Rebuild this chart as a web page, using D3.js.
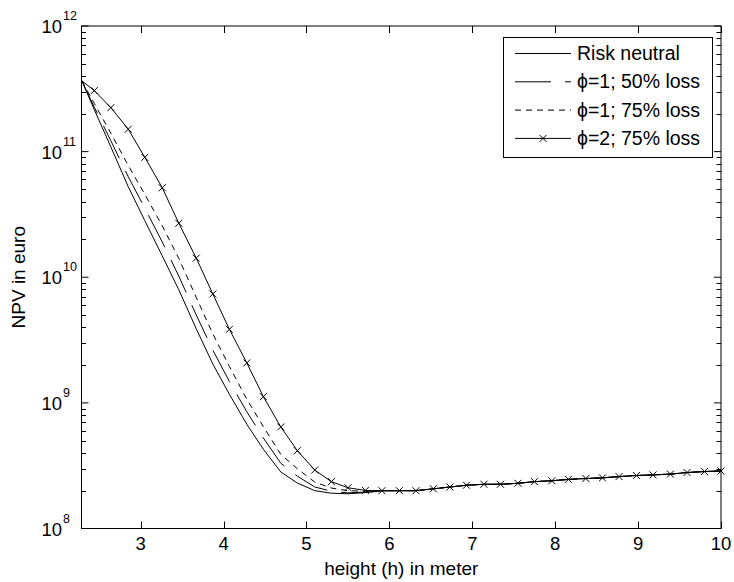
<!DOCTYPE html>
<html>
<head>
<meta charset="utf-8">
<script src="https://cdn.jsdelivr.net/npm/d3@7"></script>
<style>
  html, body { margin: 0; padding: 0; background: #fff; }
  svg { display: block; font-family: "Liberation Sans", Arial, sans-serif; }
</style>
</head>
<body>
<svg id="chart" width="734" height="582"></svg>
<script>
// ---------------- data ----------------
const heights = [2.29, 2.44, 2.64, 2.85, 3.05, 3.26, 3.46, 3.67, 3.87, 4.07, 4.28, 4.48, 4.69, 4.89,
  5.10, 5.30, 5.50, 5.71, 5.91, 6.12, 6.32, 6.53, 6.73, 6.93, 7.14, 7.34, 7.55, 7.75, 7.96, 8.16,
  8.37, 8.57, 8.77, 8.98, 9.18, 9.39, 9.59, 9.80, 10.00];

const riskNeutral = [3.66e11, 2.16e11, 1.09e11, 5.25e10, 2.82e10, 1.48e10, 7.94e9, 3.89e9, 2.04e9,
  1.17e9, 6.76e8, 4.27e8, 2.82e8, 2.30e8, 2.00e8, 1.91e8, 1.89e8, 1.93e8, 1.99e8,
  2.00e8, 2.00e8, 2.07e8, 2.14e8, 2.21e8, 2.25e8, 2.25e8, 2.29e8, 2.36e8, 2.40e8, 2.46e8,
  2.50e8, 2.53e8, 2.59e8, 2.64e8, 2.67e8, 2.71e8, 2.79e8, 2.84e8, 2.87e8];

const phi1Loss50 = [3.66e11, 2.26e11, 1.22e11, 6.31e10, 3.55e10, 1.91e10, 1.02e10, 5.01e9, 2.63e9,
  1.48e9, 8.51e8, 5.25e8, 3.31e8, 2.61e8, 2.14e8, 1.98e8, 1.92e8, 1.95e8, 1.99e8,
  2.00e8, 2.00e8, 2.07e8, 2.14e8, 2.21e8, 2.25e8, 2.25e8, 2.29e8, 2.36e8, 2.40e8, 2.46e8,
  2.50e8, 2.53e8, 2.59e8, 2.64e8, 2.67e8, 2.71e8, 2.79e8, 2.84e8, 2.87e8];

const phi1Loss75 = [3.66e11, 2.42e11, 1.40e11, 7.76e10, 4.57e10, 2.57e10, 1.41e10, 6.92e9, 3.55e9,
  1.95e9, 1.07e9, 6.46e8, 3.89e8, 2.99e8, 2.34e8, 2.10e8, 2.00e8, 1.98e8, 2.00e8,
  2.00e8, 2.00e8, 2.07e8, 2.14e8, 2.21e8, 2.25e8, 2.25e8, 2.29e8, 2.36e8, 2.40e8, 2.46e8,
  2.50e8, 2.53e8, 2.59e8, 2.64e8, 2.67e8, 2.71e8, 2.79e8, 2.84e8, 2.87e8];

const phi2Loss75 = [3.66e11, 3.06e11, 2.24e11, 1.51e11, 9.00e10, 5.16e10, 2.69e10, 1.42e10, 7.36e9,
  3.85e9, 2.08e9, 1.12e9, 6.43e8, 4.16e8, 2.92e8, 2.36e8, 2.11e8, 2.01e8, 2.00e8,
  2.00e8, 2.00e8, 2.07e8, 2.14e8, 2.21e8, 2.25e8, 2.25e8, 2.29e8, 2.36e8, 2.40e8, 2.46e8,
  2.50e8, 2.53e8, 2.59e8, 2.64e8, 2.67e8, 2.71e8, 2.79e8, 2.84e8, 2.87e8];

const seriesLabels = ["Risk neutral", "\u03D5=1; 50% loss", "\u03D5=1; 75% loss", "\u03D5=2; 75% loss"];
const xTickValues = [3, 4, 5, 6, 7, 8, 9, 10];
const yTickExponents = [8, 9, 10, 11, 12];
const xLabel = "height (h) in meter";
const yLabel = "NPV in euro";

// ---------------- layout ----------------
const W = 734, H = 582;
const plot = { left: 81.5, top: 26, right: 721, bottom: 528.5 };
const xDomain = [2.286, 10];
const yDomain = [1e8, 1e12];
const ink = "#000";

const svg = d3.select("#chart");
svg.append("rect").attr("width", W).attr("height", H).attr("fill", "#fff");

const x = d3.scaleLinear().domain(xDomain).range([plot.left, plot.right]);
const y = d3.scaleLog().domain(yDomain).range([plot.bottom, plot.top]);

svg.append("clipPath").attr("id", "clip").append("rect")
  .attr("x", plot.left).attr("y", plot.top)
  .attr("width", plot.right - plot.left).attr("height", plot.bottom - plot.top);

const series = [
  { label: seriesLabels[0], values: riskNeutral, dash: null, marker: false },
  { label: seriesLabels[1], values: phi1Loss50, dash: "36,14", marker: false },
  { label: seriesLabels[2], values: phi1Loss75, dash: "6,5", marker: false },
  { label: seriesLabels[3], values: phi2Loss75, dash: null, marker: true }
];

const line = d3.line().x(d => x(d[0])).y(d => y(d[1]));
const gLines = svg.append("g").attr("clip-path", "url(#clip)");

function drawCross(g, cx, cy, r) {
  g.append("path")
    .attr("d", `M${cx - r},${cy - r}L${cx + r},${cy + r}M${cx - r},${cy + r}L${cx + r},${cy - r}`)
    .attr("stroke", ink).attr("stroke-width", 1).attr("fill", "none");
}

series.forEach(s => {
  const pts = heights.map((h, i) => [h, s.values[i]]);
  gLines.append("path").datum(pts)
    .attr("d", line)
    .attr("fill", "none")
    .attr("stroke", ink)
    .attr("stroke-width", 1)
    .attr("stroke-dasharray", s.dash);
  if (s.marker) {
    const gm = svg.append("g");
    pts.slice(1).forEach(p => drawCross(gm, x(p[0]), y(p[1]), 3.5));
  }
});

// ---------------- axes box & ticks ----------------
const gAx = svg.append("g").attr("stroke", ink).attr("stroke-width", 1).attr("fill", "none");
gAx.append("rect")
  .attr("x", plot.left).attr("y", plot.top)
  .attr("width", plot.right - plot.left).attr("height", plot.bottom - plot.top);

const majorLen = 7, minorLen = 4.5;
xTickValues.forEach(v => {
  const px = Math.round(x(v)) + 0.5;
  gAx.append("line").attr("x1", px).attr("x2", px).attr("y1", plot.bottom).attr("y2", plot.bottom - majorLen);
  gAx.append("line").attr("x1", px).attr("x2", px).attr("y1", plot.top).attr("y2", plot.top + majorLen);
});

yTickExponents.forEach((e, i) => {
  const v = Math.pow(10, e);
  const py = y(v);
  gAx.append("line").attr("x1", plot.left).attr("x2", plot.left + majorLen).attr("y1", py).attr("y2", py);
  gAx.append("line").attr("x1", plot.right).attr("x2", plot.right - majorLen).attr("y1", py).attr("y2", py);
  if (i < yTickExponents.length - 1) {
    for (let m = 2; m <= 9; m++) {
      const pm = Math.round(y(m * v)) + 0.5;
      gAx.append("line").attr("x1", plot.left).attr("x2", plot.left + minorLen).attr("y1", pm).attr("y2", pm);
      gAx.append("line").attr("x1", plot.right).attr("x2", plot.right - minorLen).attr("y1", pm).attr("y2", pm);
    }
  }
});

// tick labels
const fs = 18.5;
const gT = svg.append("g").attr("fill", ink);
xTickValues.forEach(v => {
  gT.append("text").attr("x", x(v)).attr("y", plot.bottom + 21)
    .attr("text-anchor", "middle").attr("font-size", fs).text(v);
});
yTickExponents.forEach(e => {
  const py = y(Math.pow(10, e));
  gT.append("text").attr("x", 62).attr("y", py + 7)
    .attr("text-anchor", "end").attr("font-size", fs).text("10");
  gT.append("text").attr("x", 63).attr("y", py - 6)
    .attr("text-anchor", "start").attr("font-size", 12.5).text(e);
});

// axis labels
gT.append("text").attr("x", (plot.left + plot.right) / 2).attr("y", 575)
  .attr("text-anchor", "middle").attr("font-size", 19).text(xLabel);
gT.append("text")
  .attr("transform", `translate(25,${(plot.top + plot.bottom) / 2}) rotate(-90)`)
  .attr("text-anchor", "middle").attr("font-size", 19).text(yLabel);

// ---------------- legend ----------------
const lg = { x: 503.5, y: 37.5, w: 209, h: 120 };
const gL = svg.append("g");
gL.append("rect").attr("x", lg.x).attr("y", lg.y).attr("width", lg.w).attr("height", lg.h)
  .attr("fill", "#fff").attr("stroke", ink).attr("stroke-width", 1);
series.forEach((s, i) => {
  const ly = 53.5 + i * 28.3;
  gL.append("line").attr("x1", 515).attr("x2", 571).attr("y1", ly).attr("y2", ly)
    .attr("stroke", ink).attr("stroke-width", 1).attr("stroke-dasharray", s.dash);
  if (s.marker) drawCross(gL, 543, ly, 3.5);
  gL.append("text").attr("x", 577).attr("y", ly + 6.5).attr("font-size", 19.5)
    .attr("fill", ink).text(s.label);
});
</script>
</body>
</html>
